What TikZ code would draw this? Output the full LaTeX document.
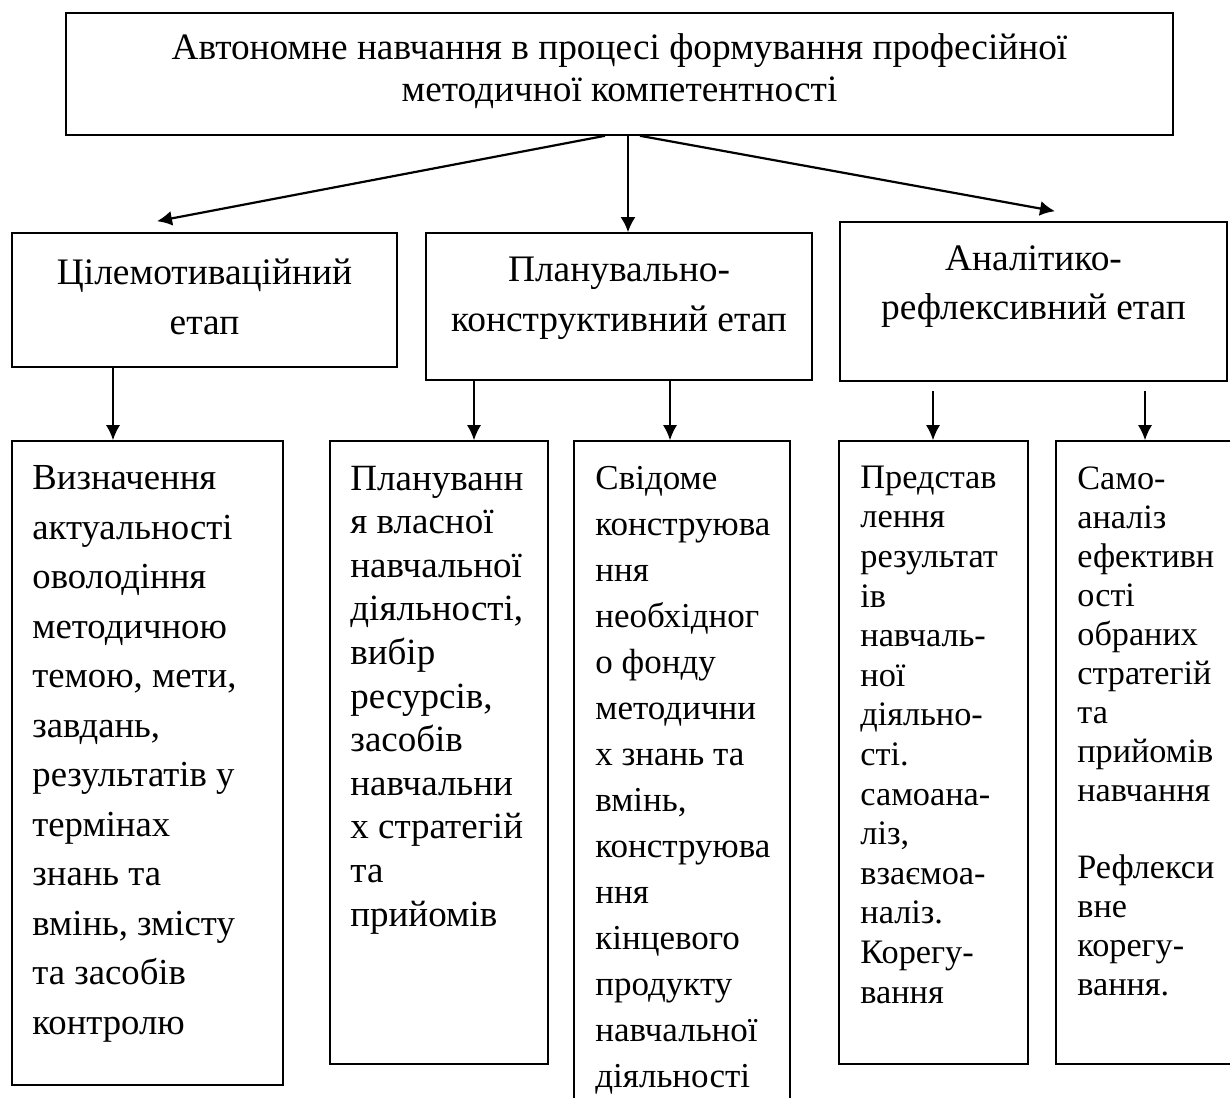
\documentclass[tikz,border=0pt]{standalone}
\usepackage{fontspec}
\setmainfont{Liberation Serif}
\usepackage{tikz}
\usetikzlibrary{arrows.meta,positioning}

\begin{document}
\begin{tikzpicture}[x=1pt, y=-1pt,
    box/.style={draw, line width=1.6pt, inner sep=0pt},
    stagetxt/.style={inner sep=0pt, align=center, font=\fontsize{37.4}{49.5}\selectfont},
    steptxt/.style={inner sep=0pt, align=left, anchor=north west},
    arr/.style={line width=1.6pt, -{Latex[length=15pt, width=14pt]}},
    toparr/.style={line width=2.2pt, -{Latex[length=15pt, width=15pt]}}]
  \useasboundingbox (0,0) rectangle (1230,1097);
  \clip (0,0) rectangle (1230,1097);

  % top box
  \node[box, minimum width=1107, minimum height=122] (top) at (619.5,74) {};
  \node[inner sep=0pt, align=center, font=\fontsize{37.3}{42}\selectfont] (toptxt) at ([yshift=3]top.center)
    {Автономне навчання в процесі формування професійної\\методичної компетентності};

  % stages
  \node[box, minimum width=385, minimum height=134] (st1) at (204.5,300) {};
  \node[box, minimum width=386, minimum height=147] (st2) at (619,306.5) {};
  \node[box, minimum width=387, minimum height=159] (st3) at (1033.5,301.5) {};
  \node[stagetxt] (st1t) at ([yshift=3]st1.center) {Цілемотиваційний\\етап};
  \node[stagetxt] (st2t) at ([yshift=8]st2.center) {Планувально-\\конструктивний етап};
  \node[stagetxt] (st3t) at ([yshift=15]st3.center) {Аналітико-\\рефлексивний етап};

  \draw[toparr] ([xshift=-14.5]top.south) -- ([xshift=-47.5, yshift=11]st1.north);
  \draw[toparr] ([xshift=8.5]top.south) -- ([xshift=9]st2.north);
  \draw[toparr] ([xshift=20.5]top.south) -- ([xshift=21.5, yshift=10]st3.north);

  % steps
  \node[box, minimum width=271, minimum height=644] (b1) at (147.5,763) {};
  \node[box, minimum width=218, minimum height=623] (b2) at (439,752.5) {};
  \node[box, minimum width=216, minimum height=679] (b3) at (682,780.5) {};
  \node[box, minimum width=189, minimum height=623] (b4) at (933.5,752.5) {};
  \node[box, minimum width=189, minimum height=623] (b5) at (1150.5,752.5) {};

  \node[steptxt, font=\fontsize{36.7}{49.5}\selectfont] (b1t) at ([xshift=21, yshift=-25.5]b1.north west)
    {Визначення\\актуальності\\оволодіння\\методичною\\темою, мети,\\завдань,\\результатів у\\термінах\\знань та\\вмінь, змісту\\та засобів\\контролю};
  \node[steptxt, font=\fontsize{37}{43.6}\selectfont] (b2t) at ([xshift=21, yshift=-25.5]b2.north west)
    {Плануванн\\я власної\\навчальної\\діяльності,\\вибір\\ресурсів,\\засобів\\навчальни\\х стратегій\\та\\прийомів};
  \node[steptxt, font=\fontsize{35}{46}\selectfont] (b3t) at ([xshift=22, yshift=-26]b3.north west)
    {Свідоме\\конструюва\\ння\\необхідног\\о фонду\\методични\\х знань та\\вмінь,\\конструюва\\ння\\кінцевого\\продукту\\навчальної\\діяльності};
  \node[steptxt, font=\fontsize{34.3}{39.6}\selectfont] (b4t) at ([xshift=22, yshift=-25.5]b4.north west)
    {Представ\\лення\\результат\\ів\\навчаль-\\ної\\діяльно-\\сті.\\самоана-\\ліз,\\взаємоа-\\наліз.\\Корегу-\\вання};
  \node[steptxt, font=\fontsize{34.2}{39}\selectfont] (b5t) at ([xshift=22, yshift=-26.5]b5.north west)
    {Само-\\аналіз\\ефективн\\ості\\обраних\\стратегій\\та\\прийомів\\навчання\\[38pt]Рефлекси\\вне\\корегу-\\вання.};

  \draw[arr] ([xshift=-91.5]st1.south) -- ([xshift=-34.5]b1.north);
  \draw[arr] ([xshift=-145]st2.south) -- ([xshift=35]b2.north);
  \draw[arr] ([xshift=51]st2.south) -- ([xshift=-12]b3.north);
  \draw[arr] ([xshift=-100.5, yshift=-9]st3.south) -- ([xshift=-0.5]b4.north);
  \draw[arr] ([xshift=111.5, yshift=-9]st3.south) -- ([xshift=-5.5]b5.north);
\end{tikzpicture}
\end{document}
